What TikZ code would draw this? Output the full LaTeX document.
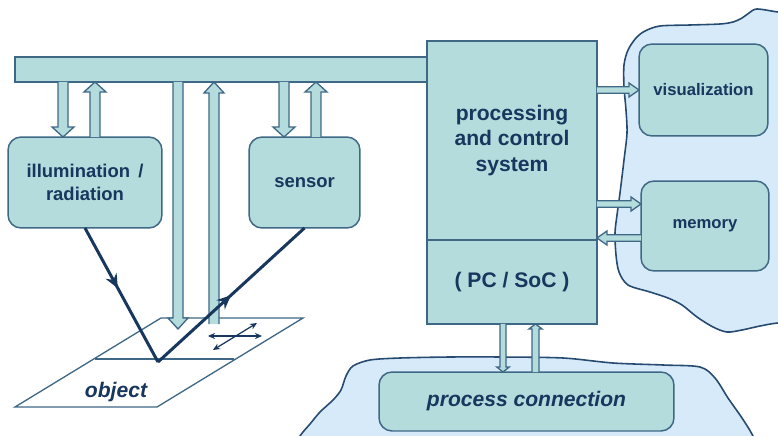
\documentclass[tikz,border=0pt]{standalone}
\usepackage{fontspec}
\setmainfont{Liberation Sans}
\usetikzlibrary{calc,positioning,arrows.meta,decorations.markings}

\definecolor{boxfill}{RGB}{181,220,220}
\definecolor{boxline}{RGB}{62,104,134}
\definecolor{cloudfill}{RGB}{214,234,250}
\definecolor{cloudline}{RGB}{38,74,112}
\definecolor{navy}{RGB}{23,55,94}

% hollow block arrow: [shaft half width : head half width : head length](from)(to)
\def\blockarrow[#1:#2:#3](#4)(#5){
	\coordinate (ba-a) at (#4);
	\coordinate (ba-b) at (#5);
	\coordinate (ba-h) at ($(ba-b)!#3!(ba-a)$);
	\draw[blockarrow] ($(ba-a)!#1!90:(ba-b)$) -- ($(ba-h)!#1!90:(ba-b)$) -- ($(ba-h)!#2!90:(ba-b)$) -- (ba-b)
		-- ($(ba-h)!#2!-90:(ba-b)$) -- ($(ba-h)!#1!-90:(ba-b)$) -- ($(ba-a)!#1!-90:(ba-b)$);
}

\tikzset{
	box/.style={draw=boxline, fill=boxfill, line width=0.85pt, rounded corners=0.26cm, text=navy, align=center, inner sep=0pt, outer sep=0pt},
	plainbox/.style={box, sharp corners},
	bigtext/.style={font=\fontsize{12}{14.5}\selectfont\bfseries},
	midtext/.style={font=\fontsize{10.5}{13}\selectfont\bfseries},
	smalltext/.style={font=\fontsize{9.5}{11}\selectfont\bfseries},
	blockarrow/.style={draw=boxline, fill=boxfill, line width=0.75pt},
	cloudarea/.style={draw=cloudline, fill=cloudfill, line width=0.9pt},
	plane/.style={draw=boxline, line width=0.75pt},
	ray/.style={draw=navy, line width=1.7pt, postaction={decorate},
		decoration={markings, mark=at position #1 with {\arrow{Stealth[length=8pt,width=7pt]}}}},
	smallarrow/.style={draw=navy, line width=0.7pt, {Stealth[length=4pt,width=3.5pt]}-{Stealth[length=4pt,width=3.5pt]}},
}

\begin{document}
\begin{tikzpicture}[x=0.02cm,y=-0.02cm]
		%%%%% START %%%%%
		\useasboundingbox (0,0) rectangle (778,436);
		
		% background clouds
		\draw[cloudarea] plot[smooth cycle, tension=0.5] coordinates {(800,14) (778,12) (757,9) (749,13) (742,18) (733,22) (720,24) (690,25) (660,26) (645,31) (636,38) (628,50) (624,65) (624,87) (626,110) (627,133) (624,160) (620,193) (617,215) (615,233) (616,255) (619,272) (628,285) (650,292) (668,298) (682,305) (697,317) (713,327) (727,332) (742,330) (760,326) (778,323) (800,323)};
		\draw[cloudarea] plot[smooth cycle, tension=0.5] coordinates {(290,455) (300,436) (310,424) (320,412) (333,400) (341,390) (346,376) (353,366) (370,360) (400,358) (450,357) (500,357) (563,358) (613,363) (663,365) (700,367) (715,378) (728,398) (742,418) (753,436) (760,455)};
		
		% bus and processing unit
		\node[plainbox, minimum width=8.26cm, minimum height=0.5cm] (bus) at (221.5,69.5) {};
		\node[plainbox, bigtext, minimum width=3.4cm, minimum height=3.98cm] (proc) at (512,140.5) {processing\\and control\\system};
		\node[plainbox, bigtext, minimum width=3.4cm, minimum height=1.68cm, below=0pt of proc] (soc) {( PC / SoC )};
		
		% boxes
		\node[box, midtext, minimum width=3.08cm, minimum height=1.82cm] (illum) at (85,182.5) {illumination \,/\\radiation};
		\node[box, midtext, minimum width=2.22cm, minimum height=1.82cm] (sensor) at (304.5,182.5) {sensor};
		\node[box, smalltext, minimum width=2.58cm, minimum height=1.84cm] (vis) at (703.5,90) {visualization};
		\node[box, smalltext, minimum width=2.56cm, minimum height=1.8cm] (mem) at (705,226) {memory};
		\node[box, bigtext, minimum width=5.9cm, minimum height=1.18cm] (pconn) at (526.5,401.5) {\itshape process connection};
		
		% object plane
		\draw[plane, fill=white] (161,318) -- (303,318) -- (157,407) -- (15,407) -- cycle;
		\draw[plane] (95,359) -- (234,359);
		\node[bigtext, text=navy] (obj) at (116,392) {\itshape object};
		
		% bus arrows
		\coordinate (il-dn) at ([xshift=-0.44cm]illum.north);
		\coordinate (il-up) at ([xshift=0.2cm]illum.north);
		\coordinate (se-dn) at ([xshift=-0.41cm]sensor.north);
		\coordinate (se-up) at ([xshift=0.23cm]sensor.north);
		\coordinate (ld) at (178,329);
		\coordinate (lu) at (214,324);
		\blockarrow[0.1cm:0.22cm:0.2cm](il-dn |- bus.south)(il-dn)
		\blockarrow[0.1cm:0.22cm:0.2cm](il-up)(il-up |- bus.south)
		\blockarrow[0.1cm:0.22cm:0.2cm](se-dn |- bus.south)(se-dn)
		\blockarrow[0.1cm:0.22cm:0.2cm](se-up)(se-up |- bus.south)
		\blockarrow[0.1cm:0.2cm:0.22cm](ld |- bus.south)(ld)
		\blockarrow[0.1cm:0.2cm:0.22cm](lu)(lu |- bus.south)
		
		% arrows of the processing unit
		\coordinate (me-in) at ([yshift=0.44cm]mem.west);
		\coordinate (me-out) at ([yshift=-0.24cm]mem.west);
		\blockarrow[0.065cm:0.14cm:0.2cm](proc.east |- vis.west)(vis.west)
		\blockarrow[0.065cm:0.14cm:0.2cm](proc.east |- me-in)(me-in)
		\blockarrow[0.065cm:0.14cm:0.2cm](me-out)(proc.east |- me-out)
		\coordinate (pc-dn) at ([xshift=-0.47cm]pconn.north);
		\coordinate (pc-up) at ([xshift=0.18cm]pconn.north);
		\blockarrow[0.06cm:0.125cm:0.1cm](pc-dn |- soc.south)(pc-dn)
		\blockarrow[0.07cm:0.13cm:0.1cm](pc-up)(pc-up |- soc.south)
		
		% light path
		\coordinate (hit) at (158,362);
		\draw[ray=0.45] (illum.south) -- (hit);
		\draw[ray=0.5] (hit) -- (sensor.south);
		
		% movement of the object
		\draw[smallarrow] (208,336) -- (262,336);
		\draw[smallarrow] (213,350) -- (257,323);
		
		%%%%% END %%%%%
\end{tikzpicture}
\end{document}
